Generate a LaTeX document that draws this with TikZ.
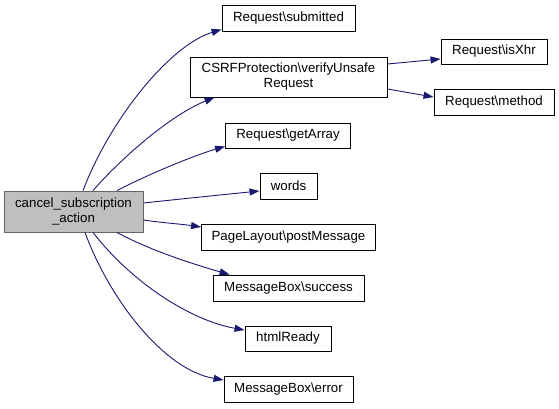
\documentclass[tikz,border=0pt]{standalone}
\usepackage{fontspec}
\setmainfont{Liberation Sans}
\usetikzlibrary{arrows.meta}
\definecolor{edgeblue}{RGB}{25,25,112}
\definecolor{rootfill}{RGB}{191,191,191}
\definecolor{rootline}{RGB}{102,102,102}
\begin{document}
\begin{tikzpicture}[x=1pt,y=-1pt,
  box/.style={draw=black,line width=0.9pt,fill=white,inner sep=0pt,align=center,
    font=\fontsize{13.3}{15}\selectfont},
  rootbox/.style={box,draw=rootline,fill=rootfill},
  edge/.style={draw=edgeblue,line width=0.9pt,-{Triangle[length=10pt,width=7pt]}}]
\useasboundingbox (0,0) rectangle (559,408);
\node[rootbox,minimum width=139pt,minimum height=41pt] (main) at (73.5,211.5) {cancel\_subscription\\\_action};
\node[box,minimum width=133pt,minimum height=26pt] (sub) at (288.5,18) {Request\textbackslash submitted};
\node[box,minimum width=197pt,minimum height=40pt] (csrf) at (288.5,77) {CSRFProtection\textbackslash verifyUnsafe\\Request};
\node[box,minimum width=125pt,minimum height=25pt] (arr) at (288,135.5) {Request\textbackslash getArray};
\node[box,minimum width=57pt,minimum height=26pt] (words) at (288.5,186) {words};
\node[box,minimum width=174pt,minimum height=26pt] (post) at (288.5,237) {PageLayout\textbackslash postMessage};
\node[box,minimum width=151pt,minimum height=26pt] (succ) at (288.5,288) {MessageBox\textbackslash success};
\node[box,minimum width=86pt,minimum height=25pt] (html) at (288,338.5) {htmlReady};
\node[box,minimum width=129pt,minimum height=26pt] (err) at (288.5,389) {MessageBox\textbackslash error};
\node[box,minimum width=106pt,minimum height=25pt] (xhr) at (494,51.5) {Request\textbackslash isXhr};
\node[box,minimum width=120pt,minimum height=26pt] (meth) at (494,102) {Request\textbackslash method};

\draw[edge] ([xshift=9.5pt]main.north) .. controls +(27,-71) and +(-52,16) .. ([yshift=2pt]sub.south west);
\draw[edge] ([xshift=19.5pt]main.north) .. controls +(27,-31) and +(-45,18) .. ([xshift=25pt]csrf.south west);
\draw[edge] ([xshift=43.5pt]main.north) .. controls +(33,-17) and +(-31,9) .. ([yshift=2pt]arr.south west);
\draw[edge] ([yshift=8.5pt]main.east) .. controls +(37,-4) and +(-40,4) .. ([yshift=-5pt]words.west);
\draw[edge] ([yshift=-8.5pt]main.east) .. controls +(20,3) and +(-20,-3) .. ([yshift=10pt]post.west);
\draw[edge] ([xshift=43.5pt]main.south) .. controls +(33,18) and +(-35,-10) .. ([xshift=17pt]succ.north west);
\draw[edge] ([xshift=19.5pt]main.south) .. controls +(37,48) and +(-56,-10) .. ([yshift=8.5pt]html.west);
\draw[edge] ([xshift=11.5pt]main.south) .. controls +(25,68) and +(-59,-10) .. ([yshift=9pt]err.west);
\draw[edge] ([yshift=13pt]csrf.east) -- ([yshift=-7.5pt]xhr.west);
\draw[edge] ([yshift=-12pt]csrf.east) -- ([yshift=5pt]meth.west);
\end{tikzpicture}
\end{document}
